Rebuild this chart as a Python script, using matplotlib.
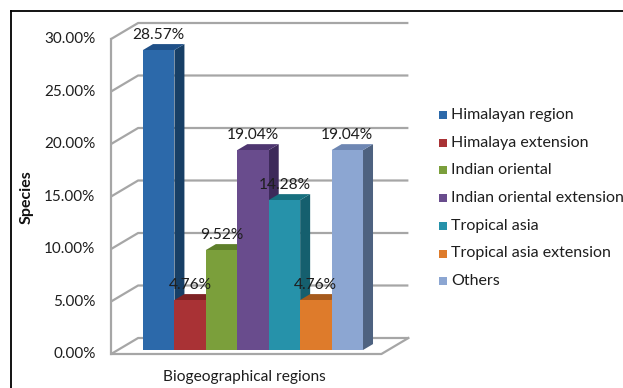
import numpy as np
import matplotlib.pyplot as plt
from matplotlib.patches import Polygon, Rectangle
from matplotlib.lines import Line2D

# data
regions = ["Himalayan region", "Himalaya extension", "Indian oriental",
           "Indian oriental extension", "Tropical asia",
           "Tropical asia extension", "Others"]
species = [28.57, 4.76, 9.52, 19.04, 14.28, 4.76, 19.04]
yticks = [0, 5, 10, 15, 20, 25, 30]

front_col = ["#2C69AA", "#A93235", "#7B9F3B", "#694C8D", "#2692AA", "#DE7B2B", "#8CA6D2"]
top_col = ["#1F5088", "#7E2224", "#5E7F2B", "#4E3670", "#17707F", "#A65A1C", "#6E87B3"]
side_col = ["#173F66", "#6A1B1D", "#4C6A22", "#3D2A5A", "#155F6E", "#8A4A15", "#4E6280"]

plt.rcParams['font.family'] = ['Lato', 'DejaVu Sans']

W, H = 623, 388
fig = plt.figure(figsize=(W / 100, H / 100), dpi=100)
ax = fig.add_axes([0, 0, 1, 1])

# pixel scale of the bar plane: one category = bar width, y in percent
px_x, px_y = 31.43, 10.5
x0_px, y0_px = 143, 350
ax.set_xlim(-x0_px / px_x, (W - x0_px) / px_x)
ax.set_ylim(-(H - y0_px) / px_y, y0_px / px_y)
ax.axis("off")

# depth of the box (full depth) in data units
DX = 27 / px_x
DY = 16 / px_y
d_front = -0.25
d_back = d_front + 1
bar_depth = 10 / 27
xl, xr = -0.8, 7.8
grid_c = "#A6A6A6"


def proj(x, h, d):
    return x + d * DX, h + d * DY


# walls: gridlines on the left wall and back wall
for t in yticks:
    p1 = proj(xl, t, d_front)
    p2 = proj(xl, t, d_back)
    p3 = proj(xr, t, d_back)
    ax.plot([p1[0], p2[0], p3[0]], [p1[1], p2[1], p3[1]], color=grid_c, lw=1.6,
            zorder=1, solid_capstyle="butt")
    ax.text(p1[0] - 0.5, p1[1], f"{t:.2f}%", ha="right", va="center",
            fontsize=11, color="#1E1E1E")

# front axis line and floor
f = [proj(xl, 0, d_front), proj(xr, 0, d_front), proj(xr, 0, d_back)]
ax.plot([p[0] for p in f], [p[1] for p in f], color=grid_c, lw=1.6, zorder=1)
a = [proj(xl, 0, d_front), proj(xl, yticks[-1], d_front)]
ax.plot([p[0] for p in a], [p[1] for p in a], color=grid_c, lw=1.6, zorder=1)

# bars
for i, v in enumerate(species):
    z = 3 + i
    side = [proj(i + 1, 0, 0), proj(i + 1, v, 0), proj(i + 1, v, bar_depth), proj(i + 1, 0, bar_depth)]
    top = [proj(i, v, 0), proj(i + 1, v, 0), proj(i + 1, v, bar_depth), proj(i, v, bar_depth)]
    ax.add_patch(Polygon(side, closed=True, fc=side_col[i], ec="none", zorder=z))
    ax.add_patch(Polygon(top, closed=True, fc=top_col[i], ec="none", zorder=z))
    ax.bar(i, v, width=1, align="edge", color=front_col[i], zorder=z)
    ax.text(i + 0.5, v + 1.45, f"{v:.2f}%", ha="center", va="center",
            fontsize=11.2, color="#1E1E1E", zorder=20)

# axis titles
fig.text(27 / W, 1 - 197 / H, "Species", rotation=90, ha="center", va="center",
         fontsize=11.5, fontweight="bold", color="#111111")
fig.text(244 / W, 1 - 377 / H, "Biogeographical regions", ha="center", va="center",
         fontsize=11.2, color="#1E1E1E")

# legend
for k, name in enumerate(regions):
    yc = 115 + k * 27.7
    fig.patches.append(Rectangle((439 / W, 1 - (yc + 4) / H), 8 / W, 8 / H,
                                 transform=fig.transFigure, fc=front_col[k], ec="none"))
    fig.text(451 / W, 1 - yc / H, name, ha="left", va="center", fontsize=11.5,
             color="#1E1E1E")

# outer frame (top and left edges)
fig.lines.append(Line2D([11 / W, 1], [1 - 11 / H, 1 - 11 / H], transform=fig.transFigure,
                        color="black", lw=1.3))
fig.lines.append(Line2D([11 / W, 11 / W], [0, 1 - 11 / H], transform=fig.transFigure,
                        color="black", lw=1.3))

fig.savefig("out.png", dpi=100)
